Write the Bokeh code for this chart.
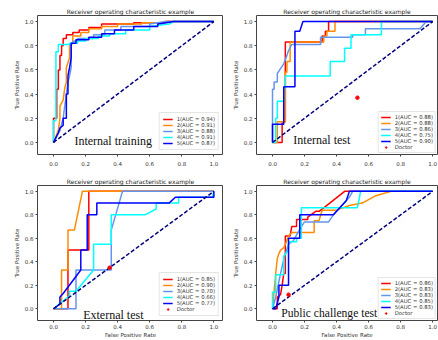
from bokeh.plotting import figure
from bokeh.layouts import column, row
from bokeh.models import Label, FixedTicker, PrintfTickFormatter, Legend, LegendItem, Range1d
from bokeh.embed import file_html
from bokeh.resources import INLINE

TITLE = "Receiver operating characteristic example"
COLORS = ["#ff0000", "#ff8c00", "#6495ed", "#00ffff", "#0000ff"]
TICKS = [0.0, 0.2, 0.4, 0.6, 0.8, 1.0]

# ---- Internal training ----
train_auc = ["0.94", "0.91", "0.88", "0.91", "0.87"]
train_fpr = [
    [0, 0, 0.02, 0.02, 0.03, 0.03, 0.04, 0.04, 0.05, 0.05, 0.06, 0.06, 0.08, 0.08, 0.12, 0.12, 0.16, 0.16, 0.22, 0.22, 0.3, 0.3, 0.5, 0.5, 0.7, 0.7, 1.0],
    [0, 0.03, 0.04, 0.04, 0.06, 0.07, 0.08, 0.08, 0.1, 0.1, 0.12, 0.12, 0.17, 0.17, 0.22, 0.22, 0.3, 0.3, 0.4, 0.4, 0.55, 0.55, 0.69, 0.69, 1.0],
    [0, 0.04, 0.06, 0.07, 0.08, 0.09, 0.1, 0.11, 0.11, 0.13, 0.15, 0.15, 0.25, 0.25, 0.32, 0.32, 0.42, 0.42, 0.6, 0.6, 0.7, 1.0],
    [0, 0, 0.015, 0.015, 0.03, 0.03, 0.1, 0.1, 0.15, 0.15, 0.2, 0.2, 0.28, 0.28, 0.35, 0.35, 0.45, 0.45, 0.6, 0.6, 0.72, 0.75, 1.0],
    [0, 0.03, 0.04, 0.06, 0.06, 0.08, 0.08, 0.09, 0.09, 0.1, 0.11, 0.11, 0.14, 0.14, 0.22, 0.22, 0.3, 0.3, 0.38, 0.38, 0.5, 0.5, 0.65, 0.65, 0.75, 1.0],
]
train_tpr = [
    [0, 0.2, 0.2, 0.44, 0.44, 0.6, 0.6, 0.72, 0.72, 0.8, 0.8, 0.86, 0.86, 0.89, 0.89, 0.91, 0.91, 0.93, 0.93, 0.95, 0.95, 0.98, 0.98, 0.99, 0.99, 1.0, 1.0],
    [0, 0.1, 0.2, 0.3, 0.35, 0.45, 0.5, 0.62, 0.7, 0.8, 0.82, 0.88, 0.88, 0.91, 0.91, 0.94, 0.94, 0.96, 0.96, 0.98, 0.98, 0.99, 0.99, 1.0, 1.0],
    [0, 0.1, 0.2, 0.3, 0.4, 0.5, 0.55, 0.62, 0.82, 0.84, 0.84, 0.86, 0.86, 0.89, 0.89, 0.93, 0.93, 0.96, 0.96, 0.98, 1.0, 1.0],
    [0, 0.18, 0.18, 0.75, 0.75, 0.81, 0.81, 0.82, 0.82, 0.84, 0.84, 0.86, 0.86, 0.88, 0.88, 0.9, 0.9, 0.93, 0.93, 0.96, 0.98, 1.0, 1.0],
    [0, 0.08, 0.12, 0.14, 0.2, 0.2, 0.4, 0.4, 0.55, 0.62, 0.7, 0.82, 0.82, 0.85, 0.85, 0.87, 0.87, 0.9, 0.9, 0.93, 0.93, 0.96, 0.96, 0.98, 1.0, 1.0],
]

# ---- Internal test ----
itest_auc = ["0.88", "0.88", "0.86", "0.75", "0.90"]
itest_fpr = [
    [0, 0.06, 0.06, 0.08, 0.08, 0.31, 0.31, 0.33, 0.33, 0.35, 0.35, 1.0],
    [0, 0.03, 0.03, 0.08, 0.08, 0.09, 0.09, 0.11, 0.11, 0.32, 0.32, 0.34, 0.34, 0.39, 0.39, 1.0],
    [0, 0, 0.01, 0.01, 0.03, 0.03, 0.05, 0.07, 0.09, 0.1, 0.12, 0.3, 0.3, 0.5, 0.5, 0.58, 0.58, 0.92, 0.96, 1.0],
    [0, 0.02, 0.02, 0.03, 0.03, 0.07, 0.07, 0.08, 0.08, 0.36, 0.36, 0.45, 0.45, 0.49, 0.49, 0.68, 0.68, 1.0],
    [0, 0, 0.07, 0.07, 0.14, 0.14, 0.17, 0.19, 1.0],
]
itest_tpr = [
    [0, 0, 0.17, 0.17, 0.83, 0.83, 0.88, 0.88, 0.92, 0.92, 1.0, 1.0],
    [0, 0, 0.17, 0.17, 0.58, 0.58, 0.67, 0.67, 0.83, 0.83, 0.88, 0.88, 0.92, 0.92, 1.0, 1.0],
    [0, 0.44, 0.44, 0.5, 0.5, 0.57, 0.61, 0.65, 0.72, 0.76, 0.81, 0.81, 0.87, 0.87, 0.89, 0.89, 0.94, 0.94, 1.0, 1.0],
    [0, 0, 0.2, 0.2, 0.34, 0.34, 0.45, 0.45, 0.55, 0.55, 0.67, 0.67, 0.78, 0.78, 0.89, 0.89, 1.0, 1.0],
    [0, 0.15, 0.15, 0.46, 0.46, 0.92, 0.92, 1.0, 1.0],
]
itest_doctor = (0.53, 0.37)

# ---- External test ----
etest_auc = ["0.85", "0.90", "0.70", "0.66", "0.77"]
etest_fpr = [
    [0, 0.09, 0.09, 0.22, 0.22, 1.0],
    [0, 0.05, 0.05, 0.09, 0.09, 0.13, 0.18, 1.0],
    [0, 0.14, 0.14, 0.36, 0.36, 0.43, 1.0],
    [0, 0.09, 0.1, 0.1, 0.14, 0.25, 0.25, 0.36, 0.36, 0.57, 0.64, 0.64, 0.78, 0.78, 0.99, 1.0],
    [0, 0.04, 0.04, 0.06, 0.17, 0.17, 0.21, 0.21, 0.27, 0.27, 0.72, 0.76, 1.0, 1.0],
]
etest_tpr = [
    [0, 0, 0.5, 0.5, 1.0, 1.0],
    [0, 0, 0.33, 0.33, 0.67, 0.67, 1.0, 1.0],
    [0, 0, 0.33, 0.33, 0.67, 1.0, 1.0],
    [0, 0.1, 0.1, 0.15, 0.15, 0.33, 0.55, 0.55, 0.8, 0.8, 0.85, 0.9, 0.9, 0.95, 0.95, 1.0],
    [0, 0.04, 0.1, 0.13, 0.33, 0.5, 0.5, 0.8, 0.8, 0.9, 0.9, 0.95, 0.95, 1.0],
]
etest_doctor = (0.35, 0.35)

# ---- Public challenge test ----
ptest_auc = ["0.86", "0.83", "0.83", "0.85", "0.83"]
ptest_fpr = [
    [0, 0.03, 0.03, 0.05, 0.06, 0.07, 0.08, 0.08, 0.11, 0.12, 0.15, 0.15, 0.22, 0.22, 0.27, 0.29, 0.32, 0.45, 1.0],
    [0, 0.02, 0.03, 0.04, 0.05, 0.07, 0.08, 0.1, 0.12, 0.26, 0.26, 0.29, 0.31, 0.4, 0.48, 0.56, 0.64, 0.74, 1.0],
    [0, 0.02, 0.05, 0.07, 0.1, 0.13, 0.18, 0.2, 0.35, 0.38, 0.42, 0.48, 0.5, 1.0],
    [0, 0, 0.02, 0.02, 0.07, 0.07, 0.1, 0.1, 0.15, 0.15, 0.18, 0.18, 0.53, 0.55, 1.0],
    [0, 0.02, 0.04, 0.04, 0.1, 0.1, 0.17, 0.17, 0.38, 0.46, 0.48, 1.0],
]
ptest_tpr = [
    [0, 0, 0.1, 0.12, 0.2, 0.3, 0.3, 0.62, 0.62, 0.7, 0.7, 0.76, 0.76, 0.78, 0.83, 0.83, 0.86, 1.0, 1.0],
    [0, 0.3, 0.43, 0.47, 0.5, 0.52, 0.55, 0.62, 0.65, 0.65, 0.75, 0.75, 0.84, 0.84, 0.88, 0.9, 0.96, 1.0, 1.0],
    [0, 0.1, 0.3, 0.42, 0.55, 0.58, 0.7, 0.74, 0.74, 0.8, 0.86, 0.95, 1.0, 1.0],
    [0, 0.14, 0.14, 0.29, 0.29, 0.45, 0.5, 0.57, 0.57, 0.6, 0.6, 0.86, 0.86, 1.0, 1.0],
    [0, 0, 0.1, 0.2, 0.2, 0.6, 0.6, 0.8, 0.8, 0.92, 1.0, 1.0],
]
ptest_doctor = (0.10, 0.12)

DIAG = [0, 1]
FONT = "DejaVu Sans"
SERIF = "Liberation Serif"


def panel(fprs, tprs, aucs, doctor, caption, cap_xy, cap_size, col, rw):
    left = col == 0
    top = rw == 0
    x_end = 1.06 if left else 1.03
    p = figure(
        width=223 if left else 215, height=170,
        x_range=Range1d(-0.1, x_end), y_range=Range1d(-0.1, 1.05),
        output_backend="svg", toolbar_location=None,
        min_border_left=37 if left else 33, min_border_right=0 if left else 1,
        min_border_top=15, min_border_bottom=16,
    )
    p.title.text = TITLE
    p.title.align = "center"
    p.title.text_font = FONT
    p.title.text_font_size = "6px"
    p.title.text_font_style = "normal"
    p.title.text_color = "#222222"
    p.title.standoff = 1
    p.background_fill_color = "white"
    p.border_fill_color = "white"
    p.outline_line_color = "#444444"
    p.outline_line_width = 1
    p.grid.visible = False
    for ax in (p.xaxis[0], p.yaxis[0]):
        ax.ticker = FixedTicker(ticks=TICKS)
        ax.formatter = PrintfTickFormatter(format="%.1f")
        ax.axis_line_color = None
        ax.major_tick_line_color = "#444444"
        ax.major_tick_out = 2
        ax.major_tick_in = 0
        ax.minor_tick_line_color = None
        ax.major_label_text_font = FONT
        ax.major_label_text_font_size = "5.5px"
        ax.major_label_text_color = "#333333"
        ax.axis_label_text_font = FONT
        ax.axis_label_text_font_size = "5.5px"
        ax.axis_label_text_font_style = "normal"
        ax.axis_label_text_color = "#333333"
        ax.axis_label_standoff = 2
    p.yaxis[0].axis_label = "True Positive Rate"
    p.yaxis[0].major_label_standoff = 2
    if top:
        p.xaxis[0].major_label_standoff = 4
    else:
        p.xaxis[0].axis_label = "False Positive Rate"
        p.xaxis[0].major_label_standoff = 1
        p.xaxis[0].axis_label_standoff = 0

    items = []
    for i in range(5):
        r = p.line(fprs[i], tprs[i], line_color=COLORS[i], line_width=1.5)
        items.append(LegendItem(label=f"{i + 1}(AUC = {aucs[i]})", renderers=[r]))
    p.line(DIAG, DIAG, line_color="navy", line_width=1.5, line_dash="4 2")
    if doctor is not None:
        d = p.scatter([doctor[0]], [doctor[1]], size=3.5, color="red", marker="circle")
        items.append(LegendItem(label="Doctor", renderers=[d]))

    lg = Legend(items=items, location="bottom_right")
    lg.label_text_font = FONT
    lg.label_text_font_size = "5.3px"
    lg.label_text_color = "#333333"
    lg.label_height = 4
    lg.label_width = 10
    lg.label_standoff = 4
    lg.glyph_height = 4
    lg.glyph_width = 10
    lg.spacing = -2
    lg.padding = 3 if left else 2
    lg.margin = 4 if left else 1
    lg.border_line_color = "#cccccc"
    lg.background_fill_alpha = 0.85
    p.add_layout(lg, "center")

    p.add_layout(Label(x=cap_xy[0], y=cap_xy[1], text=caption, text_align="left",
                       text_baseline="alphabetic", text_font=SERIF, level="overlay",
                       text_font_size=cap_size, text_color="#111111"))
    return p


p1 = panel(train_fpr, train_tpr, train_auc, None, "Internal training", (0.13, 0.01), "12px", 0, 0)
p2 = panel(itest_fpr, itest_tpr, itest_auc, itest_doctor, "Internal test", (0.13, 0.017), "12px", 1, 0)
p3 = panel(etest_fpr, etest_tpr, etest_auc, etest_doctor, "External test", (0.185, -0.05), "12px", 0, 1)
p4 = panel(ptest_fpr, ptest_tpr, ptest_auc, ptest_doctor, "Public challenge test", (0.055, -0.04), "11.6px", 1, 1)

layout = column(row(p1, p2), row(p3, p4))
open("out.html", "w").write(file_html(layout, INLINE))
